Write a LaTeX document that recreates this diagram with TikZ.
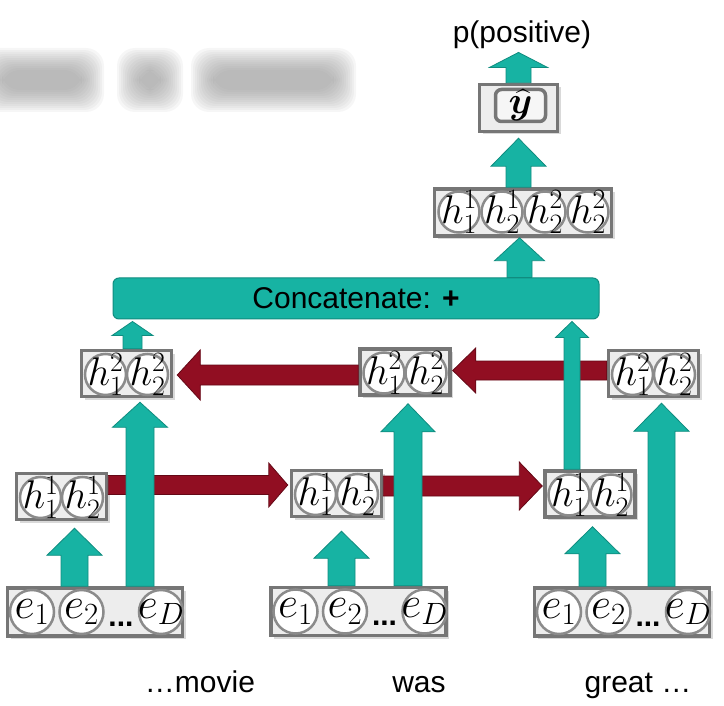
\RequirePackage{fix-cm}
\documentclass[tikz,border=0pt]{standalone}
\usepackage{amsmath}
\usepackage[no-math]{fontspec}
\setmainfont{Liberation Sans}
\usetikzlibrary{calc,shadows}

\definecolor{nnteal}{RGB}{23,179,163}
\definecolor{nnteald}{RGB}{16,140,127}
\definecolor{nnred}{RGB}{145,14,34}
\definecolor{nnredd}{RGB}{100,8,22}
\definecolor{boxgray}{RGB}{237,237,237}
\definecolor{linegray}{RGB}{118,118,118}

\tikzset{
  vecbox/.style={draw=linegray, line width=3.5pt, fill=boxgray, minimum width=90pt, minimum height=46pt, inner sep=0pt,
    drop shadow={shadow xshift=3pt, shadow yshift=-3pt, opacity=0.3}},
  unit/.style={circle, draw=linegray!85, line width=2.5pt, fill=white, minimum size=41pt, inner sep=-14pt, font=\fontsize{40}{40}\selectfont},
  tealarrow/.style={fill=nnteal, draw=nnteald, line width=0.8pt},
  redarrow/.style={fill=nnred, draw=nnredd, line width=0.8pt},
  word/.style={font=\fontsize{30}{32}\selectfont, inner sep=0pt, anchor=base},
}

% block arrow: [style]{from}{to}{shaft half width}{head half width}{head length}
\newcommand{\blockarrow}[6][tealarrow]{%
  \coordinate (ba-s) at (#2);
  \coordinate (ba-e) at (#3);
  \coordinate (ba-h) at ($(ba-e)!#6!(ba-s)$);
  \filldraw[#1] ($(ba-s)!#4!90:(ba-e)$) -- ($(ba-h)!#4!-90:(ba-s)$) -- ($(ba-h)!#5!-90:(ba-s)$)
    -- (ba-e) -- ($(ba-h)!#5!90:(ba-s)$) -- ($(ba-h)!#4!90:(ba-s)$) -- ($(ba-s)!#4!-90:(ba-e)$) -- cycle;
}

\begin{document}
\begin{tikzpicture}[x=1pt, y=-1pt]
\useasboundingbox (0,0) rectangle (724,706);

% blurred heading behind
\foreach \xa/\xb in {-20/104, 117/183, 191/356} {
  \foreach \g in {0,2,...,22}
    \fill[black!45, opacity=0.075, rounded corners=18pt] ({\xa+\g},{48+\g}) rectangle ({\xb-\g},{112-\g});
}

% output
\node[word] (pos) at (522,43) {p(positive)};
\node[vecbox, minimum width=78pt, minimum height=47pt] (yout) at (518.5,108) {};
\node[draw=linegray, line width=3.5pt, fill=boxgray!50, rounded corners=6pt, minimum width=50pt, minimum height=32pt,
  inner sep=-6pt, font=\fontsize{38}{38}\selectfont] (yhat) at (520.5,105.5) {$\boldsymbol{\widehat{y}}$};

% concatenated state
\node[vecbox, minimum width=177pt, minimum height=47pt] (hcat) at (523,212.5) {};
\foreach \x/\t [count=\i] in {459/h^1_1, 502/h^1_2, 545/h^2_2, 588/h^2_2}
  \node[unit] (hc\i) at (\x,212) {$\t$};

\node[fill=nnteal, draw=nnteald, line width=1pt, rounded corners=6pt, minimum width=486pt, minimum height=41pt,
  font=\fontsize{30}{32}\selectfont] (concat) at (356,298.5) {Concatenate: \textbf{+}};

% backward states
\foreach \n/\x/\y in {bA/126.5/373.5, bB/405/372, bC/653.5/373.5} {
  \node[vecbox] (\n) at (\x,\y) {};
  \node[unit] (\n1) at (\x-21,\y+1) {$h^2_1$};
  \node[unit] (\n2) at (\x+21,\y+1) {$h^2_2$};
}

% forward states
\foreach \n/\x/\y in {fA/61.5/496.5, fB/336.5/493.5, fC/590/494} {
  \node[vecbox] (\n) at (\x,\y) {};
  \node[unit] (\n1) at (\x-21,\y+1) {$h^1_1$};
  \node[unit] (\n2) at (\x+21,\y+1) {$h^1_2$};
}

% embeddings
\foreach \n/\x/\y in {eA/95/612, eB/358.5/611.5, eC/622/612} {
  \node[vecbox, minimum width=175pt, minimum height=48pt] (\n) at (\x,\y) {};
  \node[unit, minimum size=44pt, font=\fontsize{44}{44}\selectfont] (\n1) at (\x-63,\y) {$e_1$};
  \node[unit, minimum size=44pt, font=\fontsize{44}{44}\selectfont] (\n2) at (\x-13.5,\y) {$e_2$};
  \node[unit, minimum size=44pt, font=\fontsize{44}{44}\selectfont] (\n3) at (\x+66,\y) {$e_D$};
  \node[word, font=\fontsize{30}{30}\selectfont\bfseries] (\n dots) at (\x+26,\y+14) {...};
}

\node[word] (wA) at (200,692) {…movie};
\node[word] (wB) at (419,692) {was};
\node[word] (wC) at (638,692) {great …};

% recurrent arrows
\blockarrow[redarrow]{$(fA.east)+(0,-11.5)$}{$(fB.west |- fA.east)+(-2,-11.5)$}{9.5pt}{22pt}{19pt}
\blockarrow[redarrow]{$(fB.east)+(0,-7.5)$}{$(fC.west |- fB.east)+(-1,-7.5)$}{10pt}{24pt}{23pt}
\blockarrow[redarrow]{$(bC.west)+(0,-3)$}{$(bB.east |- bC.west)+(1,-3)$}{9.5pt}{22.5pt}{23pt}
\blockarrow[redarrow]{$(bB.west)+(0,3)$}{$(bA.east |- bB.west)+(4,3)$}{10pt}{25pt}{23pt}

% inputs up
\blockarrow{$(eA.north)+(-20.5,0)$}{$(eA.north |- fA.south)+(-20.5,7)$}{13.5pt}{27.5pt}{27pt}
\blockarrow{$(eB.north)+(-17,0)$}{$(eB.north |- fB.south)+(-17,13)$}{13.5pt}{27.5pt}{27pt}
\blockarrow{$(eC.north)+(-29.5,0)$}{$(eC.north |- fC.south)+(-29.5,8)$}{13.5pt}{27.5pt}{27pt}
\blockarrow{$(eA.north)+(45,0)$}{$(eA.north |- bA.south)+(45,4)$}{14pt}{27.5pt}{25pt}
\blockarrow{$(eB.north)+(49.5,0)$}{$(eB.north |- bB.south)+(49.5,7)$}{14pt}{27pt}{28pt}
\blockarrow{$(eC.north)+(39.5,0)$}{$(eC.north |- bC.south)+(39.5,5)$}{13.5pt}{27.5pt}{28pt}

% into concatenate and output
\blockarrow{$(bA.north)+(6,0)$}{$(bA.north |- concat.south)+(6,2)$}{9.5pt}{20.5pt}{14pt}
\blockarrow{$(fC.north)+(-18,0)$}{$(fC.north |- concat.south)+(-18,2)$}{8pt}{16.5pt}{16pt}
\blockarrow{$(yout.south |- concat.north)+(1,0)$}{$(yout.south |- hcat.south)+(1,0)$}{12.5pt}{25pt}{23pt}
\blockarrow{yout.south |- hcat.north}{$(yout.south)+(0,5)$}{12.5pt}{27.5pt}{28pt}
\blockarrow{yout.north}{$(yout.north |- pos.south)+(0,3)$}{12.5pt}{29pt}{15pt}
\end{tikzpicture}
\end{document}
